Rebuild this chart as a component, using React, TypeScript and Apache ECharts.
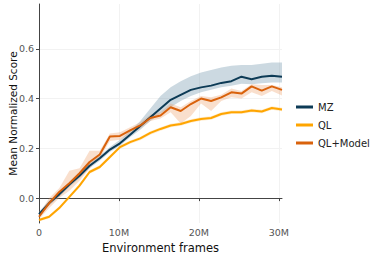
import React, { useEffect, useRef } from "react";
import * as echarts from "echarts";

const frames = [0, 1.27, 2.53, 3.8, 5.07, 6.33, 7.6, 8.87, 10.13, 11.4, 12.67, 13.93, 15.2, 16.47, 17.73, 19.0, 20.27, 21.53, 22.8, 24.07, 25.33, 26.6, 27.87, 29.13, 30.4];

const mz = [-0.065, -0.02, 0.015, 0.055, 0.09, 0.13, 0.16, 0.195, 0.22, 0.255, 0.29, 0.325, 0.36, 0.395, 0.415, 0.435, 0.445, 0.452, 0.463, 0.47, 0.488, 0.478, 0.488, 0.492, 0.488];
const mzLow = [-0.075, -0.03, 0.005, 0.045, 0.08, 0.12, 0.15, 0.185, 0.21, 0.245, 0.275, 0.31, 0.34, 0.365, 0.39, 0.41, 0.425, 0.435, 0.445, 0.452, 0.46, 0.458, 0.462, 0.465, 0.465];
const mzHigh = [-0.055, -0.01, 0.025, 0.065, 0.1, 0.14, 0.17, 0.205, 0.235, 0.27, 0.31, 0.36, 0.41, 0.445, 0.47, 0.49, 0.505, 0.515, 0.525, 0.532, 0.535, 0.535, 0.54, 0.545, 0.545];

const ql = [-0.088, -0.075, -0.04, 0.005, 0.05, 0.105, 0.125, 0.165, 0.205, 0.225, 0.24, 0.262, 0.278, 0.292, 0.298, 0.31, 0.318, 0.322, 0.338, 0.345, 0.345, 0.352, 0.348, 0.362, 0.356];
const qlLow = [-0.094, -0.081, -0.047, -0.002, 0.043, 0.098, 0.118, 0.158, 0.198, 0.218, 0.233, 0.255, 0.271, 0.285, 0.291, 0.303, 0.311, 0.315, 0.331, 0.338, 0.338, 0.345, 0.341, 0.355, 0.349];
const qlHigh = [-0.082, -0.069, -0.033, 0.012, 0.057, 0.112, 0.132, 0.172, 0.212, 0.232, 0.247, 0.269, 0.285, 0.299, 0.305, 0.317, 0.325, 0.329, 0.345, 0.352, 0.352, 0.359, 0.355, 0.369, 0.363];

const qlm = [-0.075, -0.02, 0.025, 0.06, 0.1, 0.145, 0.175, 0.248, 0.25, 0.272, 0.292, 0.322, 0.332, 0.365, 0.35, 0.378, 0.4, 0.39, 0.405, 0.425, 0.42, 0.449, 0.432, 0.449, 0.435];
const qlmLow = [-0.085, -0.04, 0.0, 0.03, 0.07, 0.12, 0.16, 0.23, 0.235, 0.26, 0.28, 0.31, 0.32, 0.345, 0.3, 0.33, 0.38, 0.35, 0.39, 0.405, 0.4, 0.425, 0.41, 0.43, 0.412];
const qlmHigh = [-0.065, 0.0, 0.04, 0.11, 0.12, 0.19, 0.19, 0.26, 0.265, 0.285, 0.305, 0.335, 0.345, 0.38, 0.365, 0.39, 0.41, 0.405, 0.415, 0.44, 0.43, 0.458, 0.455, 0.455, 0.445];

const xTicks = [0, 10, 20, 30];
const yTicks = [0, 0.2, 0.4, 0.6];

const names = ["MZ", "QL", "QL+Model"];
const colors = ["#0d3b56", "#ffa500", "#d9620c"];
const bandColors = ["rgba(128,160,180,0.4)", "rgba(255,190,80,0.3)", "rgba(235,150,90,0.3)"];

const FONT = "DejaVu Sans";

function band(lo: number[], hi: number[], fill: string) {
  return {
    type: "custom",
    silent: true,
    z: 1,
    data: frames.map((f, i) => [f, lo[i], hi[i]]),
    encode: { x: 0, y: [1, 2] },
    renderItem: (params: any, api: any) => {
      if (params.dataIndex !== 0) return null;
      const pts: number[][] = [];
      for (let i = 0; i < frames.length; i++) pts.push(api.coord([frames[i], hi[i]]));
      for (let i = frames.length - 1; i >= 0; i--) pts.push(api.coord([frames[i], lo[i]]));
      return { type: "polygon", shape: { points: pts }, style: { fill, stroke: "none" } };
    },
  };
}

function line(name: string, vals: number[], color: string) {
  return {
    type: "line",
    name,
    z: 3,
    showSymbol: false,
    symbol: "none",
    data: frames.map((f, i) => [f, vals[i]]),
    lineStyle: { color, width: 2 },
    itemStyle: { color },
  };
}

export default function App() {
  const ref = useRef<HTMLDivElement>(null);
  useEffect(() => {
    if (!ref.current) return;
    const chart = echarts.init(ref.current, undefined, { renderer: "svg" });
    chart.setOption({
      animation: false,
      textStyle: { fontFamily: FONT },
      grid: { left: 39, right: 91, top: 4, bottom: 34, containLabel: false, outerBoundsMode: "none" },
      legend: {
        data: names,
        orient: "vertical",
        left: 291,
        top: 96,
        icon: "rect",
        itemWidth: 17,
        itemHeight: 3,
        itemGap: 6,
        textStyle: { fontFamily: FONT, fontSize: 10, color: "#222", lineHeight: 12 },
      },
      xAxis: {
        type: "value",
        min: 0,
        max: 30.4,
        name: "Environment frames",
        nameLocation: "middle",
        nameGap: 19,
        nameMoveOverlap: false,
        nameTextStyle: { fontFamily: FONT, fontSize: 11.5, color: "#111" },
        axisLine: { show: true, lineStyle: { color: "#444", width: 1 } },
        axisTick: { show: true, length: 3, lineStyle: { color: "#444" }, customValues: xTicks },
        axisLabel: {
          customValues: xTicks,
          fontSize: 9.5,
          color: "#555",
          margin: 4,
          formatter: (v: number) => (v === 0 ? "0" : v + "M"),
        },
        splitLine: { show: true, lineStyle: { color: "#f2f2f2", width: 1 } },
      },
      yAxis: {
        type: "value",
        min: -0.1,
        max: 0.78,
        name: "Mean Normalized Score",
        nameLocation: "middle",
        nameGap: 21,
        nameMoveOverlap: false,
        nameTextStyle: { fontFamily: FONT, fontSize: 10.5, color: "#111" },
        axisLine: { show: true, lineStyle: { color: "#444", width: 1 } },
        axisTick: { show: true, length: 3, lineStyle: { color: "#444" }, customValues: yTicks },
        axisLabel: {
          customValues: yTicks,
          fontSize: 9.5,
          color: "#555",
          margin: 5,
          formatter: (v: number) => v.toFixed(1),
        },
        splitLine: { show: true, lineStyle: { color: "#f2f2f2", width: 1 } },
      },
      series: [
        band(mzLow, mzHigh, bandColors[0]),
        band(qlLow, qlHigh, bandColors[1]),
        band(qlmLow, qlmHigh, bandColors[2]),
        line(names[0], mz, colors[0]),
        line(names[1], ql, colors[1]),
        line(names[2], qlm, colors[2]),
      ],
    });
    return () => chart.dispose();
  }, []);
  return <div ref={ref} style={{ width: 373, height: 257, position: "absolute", left: 0, top: 0 }} />;
}
